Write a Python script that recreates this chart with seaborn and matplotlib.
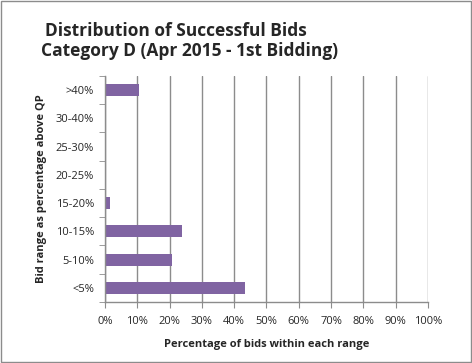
import numpy as np
import pandas as pd
import matplotlib
matplotlib.use('Agg')
import matplotlib.pyplot as plt
import seaborn as sns
from matplotlib.ticker import PercentFormatter

# Data
bid_ranges = ['>40%', '30-40%', '25-30%', '20-25%', '15-20%', '10-15%', '5-10%', '<5%']
pct_bids = [10.5, 0.3, 0.0, 0.0, 1.4, 23.7, 20.6, 43.5]
x_ticks = [0, 10, 20, 30, 40, 50, 60, 70, 80, 90, 100]

df = pd.DataFrame({'range': bid_ranges, 'pct': pct_bids})

sns.set_style('white')
plt.rcParams['font.family'] = ['Open Sans', 'DejaVu Sans']

fig = plt.figure(figsize=(4.72, 3.63), dpi=100)
ax = fig.add_axes([0.2225, 0.168, 0.684, 0.623])

sns.barplot(x='pct', y='range', data=df, order=bid_ranges, color='#8064A2',
            width=0.42, saturation=1, linewidth=0, ax=ax)

ax.set_xlim(0, 100)
ax.set_ylim(7.5, -0.5)
ax.set_xticks(x_ticks)
ax.xaxis.set_major_formatter(PercentFormatter(decimals=0))
ax.grid(axis='x', color='#8c8c8c', linewidth=1)
ax.set_axisbelow(True)

# tick marks at category boundaries
ax.set_yticks(np.arange(-0.5, 8, 1), minor=True)
ax.tick_params(axis='y', which='major', length=0, labelsize=8, pad=8)
ax.tick_params(axis='y', which='minor', length=4, color='#8c8c8c', direction='out', left=True)
ax.tick_params(axis='x', length=4, color='#8c8c8c', direction='out', bottom=True, labelsize=8, pad=6)

for s in ['top', 'right']:
    ax.spines[s].set_visible(False)
for s in ['left', 'bottom']:
    ax.spines[s].set_color('#8c8c8c')
    ax.spines[s].set_linewidth(1)

ax.set_xlabel('Percentage of bids within each range', fontsize=8, fontweight='bold', labelpad=9)
ax.set_ylabel('Bid range as percentage above QP', fontsize=8, fontweight='bold', labelpad=6)

fig.text(0.095, 0.94, 'Distribution of Successful Bids',
         fontsize=12.5, fontweight='bold', va='top', ha='left')
fig.text(0.087, 0.885, 'Category D (Apr 2015 - 1st Bidding)',
         fontsize=12.5, fontweight='bold', va='top', ha='left')

# outer frame
fig.patches.append(plt.Rectangle((0.002, 0.003), 0.995, 0.994, transform=fig.transFigure,
                                 fill=False, edgecolor='#8c8c8c', linewidth=1))

fig.savefig('out.png', dpi=100)
